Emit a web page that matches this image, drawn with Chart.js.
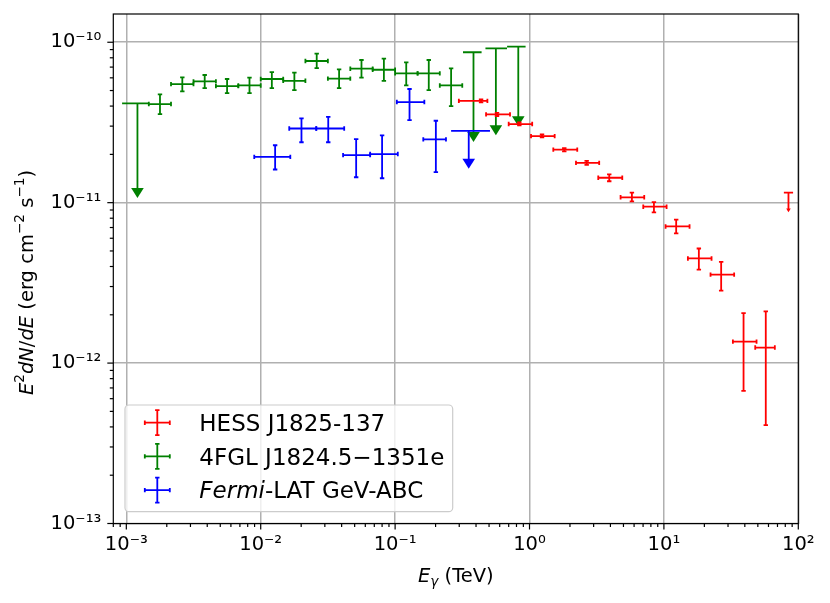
<!DOCTYPE html>
<html>
<head>
<meta charset="utf-8">
<script src="https://cdn.jsdelivr.net/npm/chart.js@4.4.1/dist/chart.umd.min.js"></script>
<style>
  html, body { margin: 0; padding: 0; background: #fff; }
  #wrap { width: 830px; height: 603px; }
</style>
</head>
<body>
<div id="wrap"><canvas id="sed"></canvas></div>
<script>
// HESS J1825-137 flux points (TeV, erg cm^-2 s^-1)
const hessE   = [0.436, 0.573, 0.840, 1.239, 1.814, 2.663, 3.920, 5.78, 8.43, 12.34, 18.20, 26.67, 39.14, 57.28];
const hessElo = [0.298, 0.475, 0.700, 1.026, 1.503, 2.217, 3.247, 4.76, 7.02, 10.29, 15.08, 22.23, 32.6, 47.8];
const hessEhi = [0.486, 0.716, 1.047, 1.539, 2.266, 3.30, 4.90, 7.14, 10.47, 15.52, 22.62, 33.32, 48.9, 66.9];
const hessF   = [4.31e-11, 3.55e-11, 3.09e-11, 2.60e-11, 2.14e-11, 1.77e-11, 1.43e-11, 1.08e-11, 9.44e-12, 7.11e-12, 4.49e-12, 3.56e-12, 1.36e-12, 1.25e-12];
const hessFlo = [4.22e-11, 3.47e-11, 3.03e-11, 2.55e-11, 2.09e-11, 1.72e-11, 1.36e-11, 1.02e-11, 8.70e-12, 6.43e-12, 3.83e-12, 2.83e-12, 6.71e-13, 4.10e-13];
const hessFhi = [4.40e-11, 3.63e-11, 3.16e-11, 2.66e-11, 2.19e-11, 1.82e-11, 1.50e-11, 1.155e-11, 1.009e-11, 7.83e-12, 5.18e-12, 4.28e-12, 2.05e-12, 2.10e-12];
const hessUlE   = [84.5];
const hessUlF   = [1.155e-11];
const hessUlTip = [8.73e-12];

// 4FGL J1824.5-1351e
const fglE   = [1.78e-3, 2.61e-3, 3.83e-3, 5.62e-3, 8.25e-3, 1.21e-2, 1.78e-2, 2.61e-2, 3.83e-2, 5.62e-2, 8.25e-2, 0.121, 0.178, 0.261];
const fglElo = [1.47e-3, 2.15e-3, 3.16e-3, 4.64e-3, 6.81e-3, 1.0e-2, 1.47e-2, 2.15e-2, 3.16e-2, 4.64e-2, 6.81e-2, 0.100, 0.147, 0.215];
const fglEhi = [2.15e-3, 3.16e-3, 4.64e-3, 6.81e-3, 1.0e-2, 1.47e-2, 2.15e-2, 3.16e-2, 4.64e-2, 6.81e-2, 0.100, 0.147, 0.215, 0.316];
const fglF   = [4.12e-11, 5.48e-11, 5.70e-11, 5.33e-11, 5.38e-11, 5.90e-11, 5.75e-11, 7.64e-11, 5.93e-11, 6.84e-11, 6.74e-11, 6.40e-11, 6.40e-11, 5.38e-11];
const fglFlo = [3.56e-11, 4.94e-11, 5.18e-11, 4.82e-11, 4.82e-11, 5.18e-11, 5.03e-11, 6.90e-11, 5.18e-11, 6.01e-11, 5.75e-11, 5.38e-11, 5.03e-11, 4.00e-11];
const fglFhi = [4.73e-11, 6.04e-11, 6.25e-11, 5.90e-11, 6.01e-11, 6.52e-11, 6.46e-11, 8.49e-11, 6.78e-11, 7.75e-11, 7.90e-11, 7.50e-11, 7.75e-11, 6.88e-11];
const fglUlE   = [1.21e-3, 0.383, 0.562, 0.825];
const fglUlElo = [0.93e-3, 0.320, 0.470, 0.681];
const fglUlEhi = [1.47e-3, 0.440, 0.680, 0.935];
const fglUlF   = [4.16e-11, 8.66e-11, 9.17e-11, 9.39e-11];
const fglUlTip = [1.07e-11, 2.39e-11, 2.63e-11, 3.0e-11];

// Fermi-LAT GeV-ABC
const abcE   = [1.28e-2, 2.01e-2, 3.18e-2, 5.13e-2, 8.0e-2, 0.128, 0.201];
const abcElo = [8.95e-3, 1.63e-2, 2.59e-2, 4.10e-2, 6.52e-2, 0.103, 0.162];
const abcEhi = [1.66e-2, 2.59e-2, 4.18e-2, 6.52e-2, 0.1047, 0.165, 0.239];
const abcF   = [1.93e-11, 2.90e-11, 2.90e-11, 1.98e-11, 2.01e-11, 4.24e-11, 2.48e-11];
const abcFlo = [1.61e-11, 2.38e-11, 2.38e-11, 1.44e-11, 1.42e-11, 3.27e-11, 1.55e-11];
const abcFhi = [2.28e-11, 3.35e-11, 3.43e-11, 2.49e-11, 2.63e-11, 5.11e-11, 3.24e-11];
const abcUlE   = [0.353];
const abcUlElo = [0.261];
const abcUlEhi = [0.508];
const abcUlF   = [2.80e-11];
const abcUlTip = [1.63e-11];

// axes
const xDecades = [1e-3, 1e-2, 1e-1, 1, 10, 100];
const xTickLabels = ['10⁻³', '10⁻²', '10⁻¹', '10⁰', '10¹', '10²'];
const yDecades = [1e-13, 1e-12, 1e-11, 1e-10];
const yTickLabels = ['10⁻¹³', '10⁻¹²', '10⁻¹¹', '10⁻¹⁰'];
const xMin = 8e-4, xMax = 100, yMin = 1e-13, yMax = 1.5e-10;

const FONT = 'DejaVu Sans';
const RED = '#ff0000', GREEN = '#008000', BLUE = '#0000ff';

function tickValues(decades, min, max) {
  const vals = [];
  [decades[0] / 10].concat(decades).forEach(d => {
    for (let k = 1; k <= 9; k++) {
      const v = k * d;
      if (v >= min * 0.9999 && v <= max * 1.0001) vals.push(v);
    }
  });
  return vals;
}
function decadeIndex(decades, v) {
  return decades.findIndex(d => Math.abs(d - v) / d < 1e-6);
}

function points(xs, ys) {
  return xs.map((e, i) => ({ x: e, y: ys[i] }));
}

// error bars and upper limits, drawn through the chart scales
const errorBars = {
  id: 'errorBars',
  afterDatasetsDraw(chart) {
    const { ctx, chartArea, scales: { x, y } } = chart;
    ctx.save();
    ctx.beginPath();
    ctx.rect(chartArea.left, chartArea.top, chartArea.width, chartArea.height);
    ctx.clip();
    ctx.lineWidth = 1.8;
    ctx.lineCap = 'butt';
    const cap = 2.2;
    const line = (x1, y1, x2, y2) => { ctx.beginPath(); ctx.moveTo(x1, y1); ctx.lineTo(x2, y2); ctx.stroke(); };

    chart.data.datasets.forEach(ds => {
      const err = ds.err;
      ctx.strokeStyle = ds.borderColor;
      ctx.fillStyle = ds.borderColor;
      ds.data.forEach((p, i) => {
        const px = x.getPixelForValue(p.x), py = y.getPixelForValue(p.y);
        const xl = x.getPixelForValue(err.xLo ? err.xLo[i] : p.x);
        const xh = x.getPixelForValue(err.xHi ? err.xHi[i] : p.x);
        if (!err.ul) {
          const yl = y.getPixelForValue(err.yLo[i]), yh = y.getPixelForValue(err.yHi[i]);
          line(xl, py, xh, py);
          line(px, yl, px, yh);
          line(xl, py - cap, xl, py + cap);
          line(xh, py - cap, xh, py + cap);
          line(px - cap, yl, px + cap, yl);
          line(px - cap, yh, px + cap, yh);
        } else {
          const tip = y.getPixelForValue(err.tip[i]);
          const big = err.big;
          const hw = big ? 6.3 : 2.3, hh = big ? 10 : 3.6;
          if (big) line(xl, py, xh, py);
          else line(px - 4.6, py, px + 4.6, py);
          line(px, py, px, tip - hh + 1);
          ctx.beginPath();
          ctx.moveTo(px - hw, tip - hh);
          ctx.lineTo(px + hw, tip - hh);
          ctx.lineTo(px, tip);
          ctx.closePath();
          ctx.fill();
        }
      });
    });
    ctx.restore();
  }
};

// frame, tick marks, axis titles, legend
function drawRuns(ctx, runs, x, y, size, align) {
  const fontFor = r => (r.italic ? 'italic ' : '') + ((r.sup || r.sub) ? size * 0.7 : size) + 'px "' + FONT + '"';
  let total = 0;
  runs.forEach(r => { ctx.font = fontFor(r); r.w = ctx.measureText(r.t).width; total += r.w; });
  let cx = align === 'center' ? x - total / 2 : x;
  ctx.textAlign = 'left';
  ctx.textBaseline = 'alphabetic';
  runs.forEach(r => {
    ctx.font = fontFor(r);
    const dy = r.sup ? -size * 0.42 : (r.sub ? size * 0.22 : 0);
    ctx.fillText(r.t, cx, y + dy);
    cx += r.w;
  });
}

const decorations = {
  id: 'decorations',
  afterDraw(chart) {
    const { ctx, chartArea: a, scales: { x, y } } = chart;
    ctx.save();
    ctx.strokeStyle = '#000';
    ctx.lineWidth = 1.2;
    // tick marks outside the frame
    x.ticks.forEach(t => {
      const px = x.getPixelForValue(t.value);
      const len = decadeIndex(xDecades, t.value) >= 0 ? 6 : 3.5;
      ctx.beginPath(); ctx.moveTo(px, a.bottom); ctx.lineTo(px, a.bottom + len); ctx.stroke();
    });
    y.ticks.forEach(t => {
      const py = y.getPixelForValue(t.value);
      const len = decadeIndex(yDecades, t.value) >= 0 ? 6 : 3.5;
      ctx.beginPath(); ctx.moveTo(a.left, py); ctx.lineTo(a.left - len, py); ctx.stroke();
    });
    ctx.strokeRect(a.left, a.top, a.right - a.left, a.bottom - a.top);

    // axis titles
    ctx.fillStyle = '#000';
    drawRuns(ctx, [{ t: 'E', italic: true }, { t: 'γ', italic: true, sub: true }, { t: ' (TeV)' }],
      (a.left + a.right) / 2, 582, 19.5, 'center');
    ctx.save();
    ctx.translate(32.5, 282.5);
    ctx.rotate(-Math.PI / 2);
    drawRuns(ctx, [
      { t: 'E', italic: true }, { t: '2', sup: true }, { t: 'dN', italic: true }, { t: '/' },
      { t: 'dE', italic: true }, { t: ' (erg cm' }, { t: '−2', sup: true }, { t: ' s' },
      { t: '−1', sup: true }, { t: ')' }
    ], 0, 0, 19.5, 'center');
    ctx.restore();

    // legend
    ctx.beginPath();
    ctx.roundRect(125, 405, 327.7, 106.7, 4);
    ctx.fillStyle = 'rgba(255,255,255,0.8)';
    ctx.fill();
    ctx.strokeStyle = '#cccccc';
    ctx.lineWidth = 1.2;
    ctx.stroke();
    const entries = [
      { color: RED, runs: [{ t: 'HESS J1825-137' }] },
      { color: GREEN, runs: [{ t: '4FGL J1824.5−1351e' }] },
      { color: BLUE, runs: [{ t: 'Fermi', italic: true }, { t: '-LAT GeV-ABC' }] }
    ];
    entries.forEach((en, i) => {
      const cy = 422.7 + i * 33.7, cx = 157.3, h = 12.5, c = 2.2;
      ctx.strokeStyle = en.color;
      ctx.lineWidth = 1.8;
      ctx.beginPath();
      ctx.moveTo(cx - h, cy); ctx.lineTo(cx + h, cy);
      ctx.moveTo(cx, cy - h); ctx.lineTo(cx, cy + h);
      ctx.moveTo(cx - h, cy - c); ctx.lineTo(cx - h, cy + c);
      ctx.moveTo(cx + h, cy - c); ctx.lineTo(cx + h, cy + c);
      ctx.moveTo(cx - c, cy - h); ctx.lineTo(cx + c, cy - h);
      ctx.moveTo(cx - c, cy + h); ctx.lineTo(cx + c, cy + h);
      ctx.stroke();
      ctx.fillStyle = '#000';
      drawRuns(ctx, en.runs, 199.3, cy + 8.3, 23, 'left');
    });
    ctx.restore();
  }
};

const xTicks = tickValues(xDecades, xMin, xMax);
const yTicks = tickValues(yDecades, yMin, yMax);

new Chart(document.getElementById('sed'), {
  type: 'scatter',
  data: {
    datasets: [
      { label: '4FGL J1824.5−1351e', data: points(fglE, fglF), borderColor: GREEN,
        err: { xLo: fglElo, xHi: fglEhi, yLo: fglFlo, yHi: fglFhi } },
      { label: '4FGL UL', data: points(fglUlE, fglUlF), borderColor: GREEN,
        err: { ul: true, big: true, xLo: fglUlElo, xHi: fglUlEhi, tip: fglUlTip } },
      { label: 'Fermi-LAT GeV-ABC', data: points(abcE, abcF), borderColor: BLUE,
        err: { xLo: abcElo, xHi: abcEhi, yLo: abcFlo, yHi: abcFhi } },
      { label: 'GeV-ABC UL', data: points(abcUlE, abcUlF), borderColor: BLUE,
        err: { ul: true, big: true, xLo: abcUlElo, xHi: abcUlEhi, tip: abcUlTip } },
      { label: 'HESS J1825-137', data: points(hessE, hessF), borderColor: RED,
        err: { xLo: hessElo, xHi: hessEhi, yLo: hessFlo, yHi: hessFhi } },
      { label: 'HESS UL', data: points(hessUlE, hessUlF), borderColor: RED,
        err: { ul: true, big: false, tip: hessUlTip } }
    ]
  },
  options: {
    responsive: true,
    maintainAspectRatio: false,
    animation: false,
    layout: { padding: { left: 0, right: 31.7, top: 14, bottom: 0 } },
    elements: { point: { radius: 0, hoverRadius: 0 } },
    plugins: { legend: { display: false }, tooltip: { enabled: false } },
    scales: {
      x: {
        type: 'logarithmic',
        min: xMin, max: xMax,
        afterBuildTicks: s => { s.ticks = xTicks.map(v => ({ value: v })); },
        afterFit: s => { s.height = 79.5; s.paddingLeft = 0; s.paddingRight = 0; },
        border: { display: false },
        grid: {
          drawTicks: false,
          lineWidth: 1.5,
          color: c => (c.tick && decadeIndex(xDecades, c.tick.value) >= 0) ? '#b0b0b0' : 'rgba(0,0,0,0)'
        },
        ticks: {
          autoSkip: false, maxRotation: 0, padding: 10, color: '#000',
          font: { family: FONT, size: 19.5 },
          callback: v => { const i = decadeIndex(xDecades, v); return i >= 0 ? xTickLabels[i] : ''; }
        }
      },
      y: {
        type: 'logarithmic',
        min: yMin, max: yMax,
        afterBuildTicks: s => { s.ticks = yTicks.map(v => ({ value: v })); },
        afterFit: s => { s.width = 113.3; s.paddingTop = 0; s.paddingBottom = 0; },
        border: { display: false },
        grid: {
          drawTicks: false,
          lineWidth: 1.5,
          color: c => (c.tick && decadeIndex(yDecades, c.tick.value) >= 0) ? '#b0b0b0' : 'rgba(0,0,0,0)'
        },
        ticks: {
          autoSkip: false, padding: 12, color: '#000',
          font: { family: FONT, size: 19.5 },
          callback: v => { const i = decadeIndex(yDecades, v); return i >= 0 ? yTickLabels[i] : ''; }
        }
      }
    }
  },
  plugins: [errorBars, decorations]
});
</script>
</body>
</html>
